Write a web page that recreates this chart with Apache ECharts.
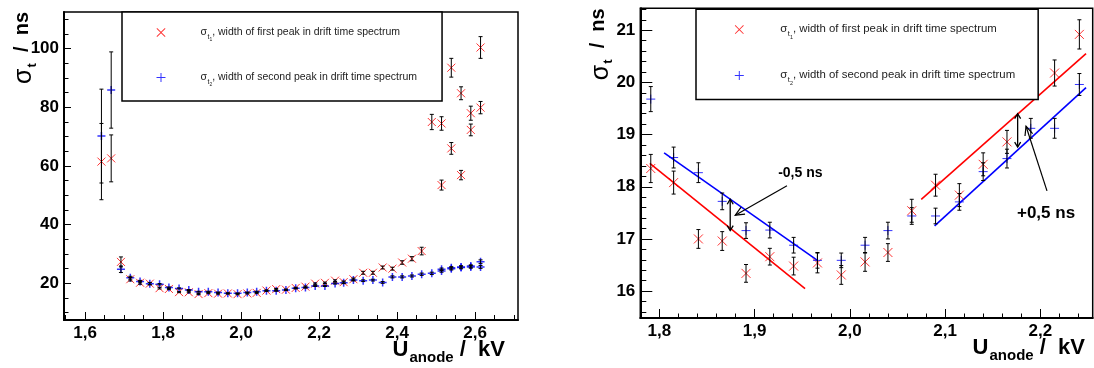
<!DOCTYPE html>
<html><head><meta charset="utf-8">
<script src="https://cdn.jsdelivr.net/npm/echarts@6/dist/echarts.min.js"></script>
<style>html,body{margin:0;padding:0;background:#fff}#c{width:1094px;height:368px}</style>
</head><body><div id="c"></div>
<script>
// ---------- data ----------
const voltage = [1.642, 1.667, 1.692, 1.716, 1.741, 1.766, 1.791, 1.815, 1.841, 1.866, 1.891, 1.916, 1.941, 1.966, 1.991, 2.016, 2.040, 2.065, 2.090, 2.115, 2.140, 2.165, 2.190, 2.215, 2.241, 2.263, 2.288, 2.313, 2.338, 2.363, 2.388, 2.413, 2.438, 2.463, 2.489, 2.514, 2.539, 2.564, 2.589, 2.614];
const sigma1 = [61.5, 62.6, 27.3, 21.4, 20.2, 19.9, 18.35, 18.08, 17.00, 16.96, 16.34, 16.66, 16.48, 16.54, 16.31, 16.56, 16.74, 17.54, 18.03, 17.84, 18.43, 18.86, 19.9, 20.18, 20.92, 20.4, 21.4, 23.6, 23.6, 25.4, 25.0, 27.1, 28.4, 31.0, 75.0, 74.5, 93.5, 84.8, 78.0, 100.4];
const sigma1Err = [13, 8, 1.7, 0.6, 0.5, 0.4, 0.27, 0.22, 0.18, 0.18, 0.17, 0.16, 0.17, 0.19, 0.18, 0.18, 0.17, 0.22, 0.21, 0.22, 0.22, 0.22, 0.22, 0.25, 0.28, 0.4, 0.4, 0.5, 0.5, 0.5, 0.5, 0.6, 0.7, 1.3, 2.6, 2.3, 3.2, 2.2, 2.4, 3.7];
const sigma2 = [70.2, 85.9, 24.8, 21.9, 20.6, 19.9, 19.68, 18.56, 18.27, 17.72, 17.16, 17.17, 16.88, 16.59, 16.59, 16.88, 17.16, 17.44, 17.44, 17.71, 18.29, 18.54, 19.12, 19.12, 19.96, 20.2, 21.1, 20.9, 21.1, 20.3, 22.2, 22.2, 22.5, 23.1, 23.4, 24.2, 25.0, 25.4, 25.6, 25.6];
const sigma2Err = [16, 13, 1.1, 0.5, 0.4, 0.35, 0.24, 0.2, 0.19, 0.16, 0.15, 0.15, 0.15, 0.15, 0.14, 0.15, 0.16, 0.16, 0.15, 0.16, 0.17, 0.18, 0.19, 0.19, 0.21, 0.3, 0.3, 0.3, 0.3, 0.3, 0.35, 0.35, 0.35, 0.4, 0.4, 0.4, 0.45, 0.45, 0.45, 0.5];
// second measurement at the highest voltages
const voltageB = [2.514, 2.539, 2.564, 2.589, 2.614];
const sigma1B = [53.5, 66.0, 56.9, 72.3, 79.9];
const sigma1BErr = [1.7, 2.0, 1.6, 2.0, 2.1];
const sigma2B = [24.8, 25.3, 25.6, 25.9, 27.4];
const sigma2BErr = [0.4, 0.4, 0.4, 0.4, 0.6];

// linear fits in the zoomed panel (end points)
const fitRed1 = [[1.790, 18.45], [1.953, 16.05]];
const fitBlue1 = [[1.805, 18.65], [1.966, 16.59]];
const fitRed2 = [[2.075, 17.76], [2.248, 20.55]];
const fitBlue2 = [[2.089, 17.25], [2.248, 19.90]];
// shift markers: [x, yLow, yHigh]
const shiftArrows = [[1.8744, 17.16, 17.76], [2.1762, 18.76, 19.40]];
// pointer lines: [xStart, yStart, xTip, yTip]
const pointerLines = [[1.934, 18.02, 1.8797, 17.456], [2.207, 17.92, 2.185, 19.16]];
const shiftLabels = ['-0,5 ns', '+0,5 ns'];
const shiftLabelPos = [[1.948, 18.27], [2.206, 17.49]];

// axes
const leftXRange = [1.546, 2.71], leftYRange = [7.5, 112.5];
const rightXRange = [1.78, 2.255], rightYRange = [15.485, 21.42];
const leftXTicks = [1.6, 1.8, 2.0, 2.2, 2.4, 2.6];
const leftYTicks = [20, 40, 60, 80, 100];
const rightXTicks = [1.8, 1.9, 2.0, 2.1, 2.2];
const rightYTicks = [16, 17, 18, 19, 20, 21];
const legendText = {
  sigma1: ['1', ', width of first peak in drift time spectrum'],
  sigma2: ['2', ', width of second peak in drift time spectrum']
};

// ---------- helpers ----------
const FONT = "'Liberation Sans', Arial, Helvetica, sans-serif";
function steps(a, b, s) { const r = []; for (let k = 0; a + k * s <= b + 1e-9; k++) r.push(+(a + k * s).toFixed(4)); return r; }
const CROSS = 'path://M0,0L10,10M10,0L0,10';
const PLUS = 'path://M5,0L5,10M0,5L10,5';
// filled outlines used as legend icons
const CROSS_F = 'path://M0.7,0L5,4.3L9.3,0L10,0.7L5.7,5L10,9.3L9.3,10L5,5.7L0.7,10L0,9.3L4.3,5L0,0.7Z';
const PLUS_F = 'path://M4.45,0H5.55V4.45H10V5.55H5.55V10H4.45V5.55H0V4.45H4.45Z';
const RED = '#ff0000', BLUE = '#0000ff';

const pts1 = voltage.map((v, i) => [v, sigma1[i], sigma1Err[i]]).concat(voltageB.map((v, i) => [v, sigma1B[i], sigma1BErr[i]]));
const pts2 = voltage.map((v, i) => [v, sigma2[i], sigma2Err[i]]).concat(voltageB.map((v, i) => [v, sigma2B[i], sigma2BErr[i]]));

function renderErr(params, api) {
  const x = api.value(0), y = api.value(1), e = api.value(2);
  const t = api.coord([x, y + e]), b = api.coord([x, y - e]);
  const c = 2, st = { stroke: '#000', lineWidth: 1 };
  return { type: 'group', children: [
    { type: 'line', shape: { x1: t[0], y1: t[1], x2: b[0], y2: b[1] }, style: st },
    { type: 'line', shape: { x1: t[0] - c, y1: t[1], x2: t[0] + c, y2: t[1] }, style: st },
    { type: 'line', shape: { x1: b[0] - c, y1: b[1], x2: b[0] + c, y2: b[1] }, style: st }
  ] };
}
function head(tip, from, len, half) {
  const dx = tip[0] - from[0], dy = tip[1] - from[1], L = Math.hypot(dx, dy) || 1;
  const ux = dx / L, uy = dy / L;
  const bx = tip[0] - ux * len, by = tip[1] - uy * len;
  return [[bx - uy * half, by + ux * half], tip, [bx + uy * half, by - ux * half]];
}
function renderShift(params, api) {
  const x = api.value(0), lo = api.coord([x, api.value(1)]), hi = api.coord([x, api.value(2)]);
  const st = { stroke: '#000', lineWidth: 1.3, fill: null };
  return { type: 'group', children: [
    { type: 'line', shape: { x1: lo[0], y1: lo[1], x2: hi[0], y2: hi[1] }, style: st },
    { type: 'polyline', shape: { points: head(hi, lo, 5, 3) }, style: st },
    { type: 'polyline', shape: { points: head(lo, hi, 5, 3) }, style: st }
  ] };
}
function renderPointer(params, api) {
  const s = api.coord([api.value(0), api.value(1)]), t = api.coord([api.value(2), api.value(3)]);
  const st = { stroke: '#000', lineWidth: 1.2, fill: null };
  return { type: 'group', children: [
    { type: 'line', shape: { x1: s[0], y1: s[1], x2: t[0], y2: t[1] }, style: st },
    { type: 'polyline', shape: { points: head(t, s, 9, 4) }, style: st }
  ] };
}
function renderLabel(params, api) {
  const p = api.coord([api.value(0), api.value(1)]);
  const fs = params.dataIndex === 0 ? 14 : 17;
  return { type: 'text', x: p[0], y: p[1], style: { text: shiftLabels[params.dataIndex], font: 'bold ' + fs + 'px ' + FONT, fill: '#000', align: 'center', verticalAlign: 'middle' } };
}

function axisPair(dim, g, range, majors, minors, majorLen, minorLen, fmt, nameCfg) {
  const main = {
    gridIndex: g, type: 'value', min: range[0], max: range[1], position: dim === 'x' ? 'bottom' : 'left',
    axisLine: { show: true, onZero: false, lineStyle: { color: '#000', width: 2 } },
    axisTick: { show: true, inside: true, length: majorLen, customValues: majors, lineStyle: { color: '#000', width: 1 } },
    axisLabel: { show: true, customValues: majors, formatter: fmt, color: '#000', fontSize: 17, fontWeight: 'bold', fontFamily: FONT, margin: 5 },
    splitLine: { show: false }, minorTick: { show: false }
  };
  Object.assign(main, nameCfg);
  const minor = {
    gridIndex: g, type: 'value', min: range[0], max: range[1], position: dim === 'x' ? 'bottom' : 'left',
    axisLine: { show: false, onZero: false },
    axisTick: { show: true, inside: true, length: minorLen, customValues: minors, lineStyle: { color: '#000', width: 1 } },
    axisLabel: { show: false }, splitLine: { show: false }
  };
  return [main, minor];
}
const fmtX = v => v.toFixed(1).replace('.', ',');
const fmtY = v => String(Math.round(v));

function xName(gap) {
  return {
    name: '{u|U}{a|anode}{r| /  kV}', nameLocation: 'end', nameGap: gap, nameMoveOverlap: false,
    nameTextStyle: { align: 'right', verticalAlign: 'top', padding: [18.5, 0, 0, 0], color: '#000',
      rich: {
        u: { fontSize: 22, fontWeight: 'bold', fontFamily: FONT, lineHeight: 24, verticalAlign: 'top', color: '#000' },
        a: { fontSize: 15, fontWeight: 'bold', fontFamily: FONT, lineHeight: 16, verticalAlign: 'top', padding: [11.8, 0, 0, 1], color: '#000' },
        r: { fontSize: 22, fontWeight: 'bold', fontFamily: FONT, lineHeight: 24, verticalAlign: 'top', color: '#000' }
      } }
  };
}
function yName(padB) {
  return {
    name: '{s|σ}{t|t}{r|  /  ns}', nameLocation: 'end', nameGap: 0, nameRotate: 90, nameMoveOverlap: false,
    nameTextStyle: { align: 'right', verticalAlign: 'bottom', padding: [0, 0, padB, 0], color: '#000',
      rich: {
        s: { fontSize: 25, fontFamily: FONT, lineHeight: 24, verticalAlign: 'top', color: '#000' },
        t: { fontSize: 13, fontWeight: 'bold', fontFamily: FONT, lineHeight: 14, verticalAlign: 'top', padding: [14, 0, 0, 1], color: '#000' },
        r: { fontSize: 20, fontWeight: 'bold', fontFamily: FONT, lineHeight: 24, verticalAlign: 'top', color: '#000' }
      } }
  };
}

function legend(g, left, top, fs, pad, gap, spacer) {
  const sc = fs / 10.5;
  return {
    show: true, z: 50, zlevel: 1, orient: 'vertical', left: left, top: top, selectedMode: false,
    backgroundColor: '#fff', borderColor: '#000', borderWidth: 1.5, borderRadius: 0,
    padding: pad, itemGap: gap, itemWidth: 9, itemHeight: 9,
    data: [
      { name: 'sigma1_' + g, icon: CROSS_F, itemStyle: { color: RED, borderWidth: 0 } },
      { name: 'sigma2_' + g, icon: PLUS_F, itemStyle: { color: BLUE, borderWidth: 0 } }
    ],
    formatter: n => { const k = n.slice(0, 6); return '{s|σ}{t|t}{i|' + legendText[k][0] + '}{r|' + legendText[k][1] + '}'; },
    textStyle: { color: '#222', fontFamily: FONT, fontSize: fs,
      rich: {
        s: { fontSize: fs, lineHeight: 12 * sc, verticalAlign: 'top', padding: [0, 0, 0, spacer], color: '#222', fontFamily: FONT },
        t: { fontSize: 7 * sc, lineHeight: 8 * sc, verticalAlign: 'top', padding: [6.7 * sc, 0, 0, 0.5], color: '#222', fontFamily: FONT },
        i: { fontSize: 5 * sc, lineHeight: 6 * sc, verticalAlign: 'top', padding: [11 * sc, 0, 0, 0], color: '#222', fontFamily: FONT },
        r: { fontSize: fs, lineHeight: 12 * sc, verticalAlign: 'top', color: '#222', fontFamily: FONT }
      } }
  };
}

function markerSeries(g, size) {
  return [
    { type: 'scatter', name: 'sigma1_' + g, xAxisIndex: 2 * g, yAxisIndex: 2 * g, data: pts1.map(p => [p[0], p[1]]), symbol: CROSS, symbolSize: size,
      itemStyle: { color: RED, borderColor: RED, borderWidth: 1 }, silent: true, clip: true, z: 3, emphasis: { disabled: true } },
    { type: 'scatter', name: 'sigma2_' + g, xAxisIndex: 2 * g, yAxisIndex: 2 * g, data: pts2.map(p => [p[0], p[1]]), symbol: PLUS, symbolSize: size,
      itemStyle: { color: BLUE, borderColor: BLUE, borderWidth: g === 0 ? 1.5 : 1 }, silent: true, clip: true, z: 4, emphasis: { disabled: true } },
    { type: 'custom', name: 'err1_' + g, xAxisIndex: 2 * g, yAxisIndex: 2 * g, data: pts1, renderItem: renderErr, encode: { x: 0, y: 1 }, silent: true, clip: true, z: 5 },
    { type: 'custom', name: 'err2_' + g, xAxisIndex: 2 * g, yAxisIndex: 2 * g, data: pts2, renderItem: renderErr, encode: { x: 0, y: 1 }, silent: true, clip: true, z: 5 }
  ];
}
function fitLine(d, color, nm) {
  return { type: 'line', name: nm, xAxisIndex: 2, yAxisIndex: 2, data: d, symbol: 'none', showSymbol: false, silent: true,
    lineStyle: { color: color, width: 1.6 }, z: 2, emphasis: { disabled: true } };
}

const xL = axisPair('x', 0, leftXRange, leftXTicks, steps(1.55, 2.70, 0.05), 8, 5, fmtX, xName(-13));
const yL = axisPair('y', 0, leftYRange, leftYTicks, steps(10, 110, 5), 7, 4.5, fmtY, yName(28));
const xR = axisPair('x', 1, rightXRange, rightXTicks, steps(1.78, 2.24, 0.02), 9, 4.5, fmtX, xName(-7.7));
const yR = axisPair('y', 1, rightYRange, rightYTicks, steps(15.6, 21.4, 0.2), 12, 6, fmtY, yName(28));

const option = {
  animation: false,
  backgroundColor: '#fff',
  grid: [
    { left: 64, top: 12, width: 454, height: 308, show: true, borderColor: '#000', borderWidth: 1.5, backgroundColor: 'transparent', containLabel: false, outerBoundsMode: 'none' },
    { left: 640.3, top: 8.3, width: 452.4, height: 309.7, show: true, borderColor: '#000', borderWidth: 1.5, backgroundColor: 'transparent', containLabel: false, outerBoundsMode: 'none' }
  ],
  xAxis: [xL[0], xL[1], xR[0], xR[1]],
  yAxis: [yL[0], yL[1], yR[0], yR[1]],
  legend: [
    legend(0, 122, 12, 10.5, [14.5, 25, 13.5, 34.5], 29, 30),
    legend(1, 696, 9.3, 11.4, [13.7, 23, 13.7, 38.8], 29, 31.5)
  ],
  series: [].concat(
    markerSeries(0, 8),
    markerSeries(1, 9),
    [fitLine(fitRed1, RED, 'fitA'), fitLine(fitBlue1, BLUE, 'fitB'), fitLine(fitRed2, RED, 'fitC'), fitLine(fitBlue2, BLUE, 'fitD'),
     { type: 'custom', name: 'shift', xAxisIndex: 2, yAxisIndex: 2, data: shiftArrows, renderItem: renderShift, encode: { x: 0, y: [1, 2] }, silent: true, z: 6 },
     { type: 'custom', name: 'pointer', xAxisIndex: 2, yAxisIndex: 2, data: pointerLines, renderItem: renderPointer, encode: { x: [0, 2], y: [1, 3] }, silent: true, z: 6 },
     { type: 'custom', name: 'labels', xAxisIndex: 2, yAxisIndex: 2, data: shiftLabelPos, renderItem: renderLabel, encode: { x: 0, y: 1 }, silent: true, z: 6 }]
  )
};
const chart = echarts.init(document.getElementById('c'), null, { renderer: 'canvas' });
chart.setOption(option);
</script></body></html>
